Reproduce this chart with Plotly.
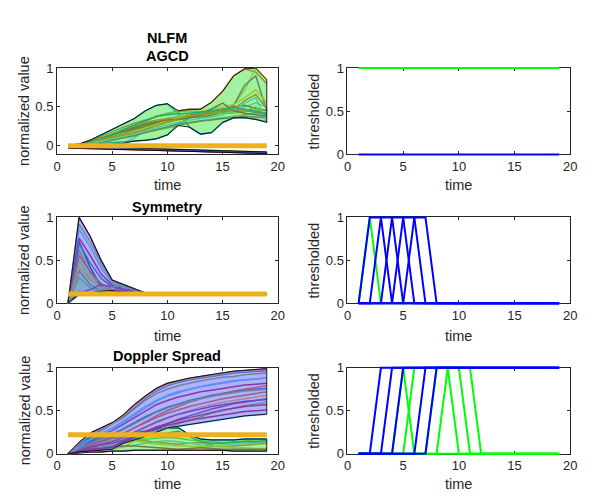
import numpy as np
import plotly.graph_objects as go

time = list(range(1, 20))

# ---------------- AGCD feature ----------------
agcd_green = [
    [0, 0.02, 0.07, 0.14, 0.22, 0.28, 0.35, 0.45, 0.52, 0.54, 0.42, 0.24, 0.15, 0.17, 0.30, 0.36, 0.36, 0.34, 0.31],
    [0, 0.02, 0.06, 0.12, 0.19, 0.24, 0.29, 0.33, 0.37, 0.41, 0.45, 0.47, 0.47, 0.56, 0.70, 0.90, 0.99, 0.95, 0.80],
    [0, 0.01, 0.03, 0.07, 0.12, 0.16, 0.20, 0.24, 0.28, 0.30, 0.33, 0.36, 0.38, 0.40, 0.45, 0.52, 0.72, 1.00, 0.85],
    [0, 0.01, 0.04, 0.08, 0.13, 0.18, 0.23, 0.27, 0.30, 0.32, 0.34, 0.36, 0.37, 0.39, 0.43, 0.52, 0.78, 0.90, 0.45],
    [0, 0.01, 0.03, 0.05, 0.08, 0.11, 0.14, 0.17, 0.20, 0.23, 0.26, 0.29, 0.32, 0.34, 0.36, 0.38, 0.40, 0.42, 0.43],
    [0, 0.00, 0.00, 0.01, 0.02, 0.03, 0.10, 0.20, 0.30, 0.35, 0.38, 0.40, 0.41, 0.42, 0.43, 0.45, 0.50, 0.55, 0.50],
    [0, 0.02, 0.05, 0.09, 0.13, 0.17, 0.21, 0.25, 0.29, 0.32, 0.36, 0.40, 0.42, 0.44, 0.47, 0.50, 0.52, 0.48, 0.45],
    [0, 0.01, 0.02, 0.03, 0.04, 0.05, 0.06, 0.07, 0.09, 0.14, 0.28, 0.36, 0.40, 0.42, 0.44, 0.46, 0.45, 0.43, 0.40],
    [0, 0.02, 0.05, 0.10, 0.15, 0.20, 0.25, 0.30, 0.33, 0.35, 0.37, 0.38, 0.39, 0.41, 0.43, 0.44, 0.46, 0.44, 0.42],
    [0, 0.01, 0.03, 0.06, 0.10, 0.14, 0.18, 0.23, 0.28, 0.33, 0.37, 0.41, 0.44, 0.47, 0.50, 0.53, 0.62, 0.72, 0.55],
    [0, 0.01, 0.02, 0.04, 0.07, 0.10, 0.13, 0.17, 0.21, 0.25, 0.28, 0.30, 0.32, 0.33, 0.35, 0.36, 0.38, 0.37, 0.36],
    [0, 0.02, 0.04, 0.08, 0.12, 0.18, 0.25, 0.31, 0.38, 0.42, 0.44, 0.45, 0.44, 0.43, 0.42, 0.42, 0.44, 0.50, 0.35],
    [0, 0.01, 0.03, 0.06, 0.09, 0.12, 0.15, 0.19, 0.23, 0.27, 0.30, 0.33, 0.35, 0.37, 0.40, 0.45, 0.55, 0.62, 0.30],
    [0, 0.02, 0.05, 0.09, 0.14, 0.19, 0.24, 0.28, 0.31, 0.33, 0.34, 0.36, 0.40, 0.48, 0.55, 0.45, 0.42, 0.40, 0.38],
    [0, 0.01, 0.04, 0.09, 0.15, 0.21, 0.27, 0.33, 0.38, 0.40, 0.41, 0.42, 0.43, 0.45, 0.47, 0.49, 0.47, 0.45, 0.41],
    [0, 0.02, 0.05, 0.08, 0.11, 0.14, 0.17, 0.21, 0.26, 0.31, 0.35, 0.38, 0.41, 0.43, 0.45, 0.47, 0.58, 0.66, 0.48],
]
agcd_blue = [
    [-0.020, -0.025, -0.030, -0.035, -0.040, -0.045, -0.050, -0.055, -0.060, -0.064, -0.068, -0.072, -0.076, -0.080, -0.084, -0.088, -0.092, -0.096, -0.100],
    [-0.010, -0.013, -0.016, -0.020, -0.024, -0.028, -0.032, -0.036, -0.040, -0.044, -0.048, -0.052, -0.056, -0.060, -0.064, -0.068, -0.072, -0.076, -0.080],
    [-0.015, -0.020, -0.025, -0.030, -0.032, -0.036, -0.040, -0.045, -0.050, -0.055, -0.060, -0.065, -0.070, -0.074, -0.078, -0.082, -0.086, -0.090, -0.094],
    [-0.030, -0.033, -0.036, -0.040, -0.044, -0.048, -0.052, -0.056, -0.060, -0.063, -0.066, -0.070, -0.073, -0.076, -0.080, -0.083, -0.086, -0.090, -0.093],
    [-0.005, -0.010, -0.015, -0.020, -0.025, -0.030, -0.035, -0.040, -0.045, -0.050, -0.055, -0.060, -0.064, -0.068, -0.072, -0.076, -0.080, -0.084, -0.088],
]
agcd_threshold = 0.0
agcd_thr_green = [
    [1, 1, 1, 1, 1, 1, 1, 1, 1, 1, 1, 1, 1, 1, 1, 1, 1, 1, 1],
]
agcd_thr_blue = [
    [0, 0, 0, 0, 0, 0, 0, 0, 0, 0, 0, 0, 0, 0, 0, 0, 0, 0, 0],
]

# ---------------- Symmetry feature ----------------
sym_blue = [
    [0, 1.00, 0.78, 0.50, 0.27, 0.22, 0.17, 0.12, 0.11, 0.11, 0.11, 0.11, 0.11, 0.11, 0.11, 0.11, 0.11, 0.11, 0.11],
    [0, 0.92, 0.72, 0.46, 0.25, 0.20, 0.16, 0.12, 0.11, 0.11, 0.11, 0.11, 0.11, 0.11, 0.11, 0.11, 0.11, 0.11, 0.11],
    [0, 0.86, 0.66, 0.41, 0.23, 0.19, 0.15, 0.12, 0.11, 0.11, 0.11, 0.11, 0.11, 0.11, 0.11, 0.11, 0.11, 0.11, 0.11],
    [0, 0.76, 0.56, 0.34, 0.21, 0.17, 0.14, 0.12, 0.11, 0.11, 0.11, 0.11, 0.11, 0.11, 0.11, 0.11, 0.11, 0.11, 0.11],
    [0, 0.70, 0.47, 0.29, 0.19, 0.16, 0.13, 0.11, 0.11, 0.11, 0.11, 0.11, 0.11, 0.11, 0.11, 0.11, 0.11, 0.11, 0.11],
    [0, 0.56, 0.37, 0.23, 0.16, 0.14, 0.12, 0.11, 0.11, 0.11, 0.11, 0.11, 0.11, 0.11, 0.11, 0.11, 0.11, 0.11, 0.11],
    [0, 0.42, 0.27, 0.19, 0.15, 0.13, 0.12, 0.11, 0.11, 0.11, 0.11, 0.11, 0.11, 0.11, 0.11, 0.11, 0.11, 0.11, 0.11],
    [0, 0.12, 0.16, 0.22, 0.19, 0.15, 0.13, 0.11, 0.11, 0.11, 0.11, 0.11, 0.11, 0.11, 0.11, 0.11, 0.11, 0.11, 0.11],
    [0, 0.14, 0.12, 0.14, 0.19, 0.21, 0.15, 0.12, 0.11, 0.11, 0.11, 0.11, 0.11, 0.11, 0.11, 0.11, 0.11, 0.11, 0.11],
]
sym_green = [
    [0, 0.72, 0.42, 0.20, 0.14, 0.12, 0.11, 0.11, 0.11, 0.11, 0.11, 0.11, 0.11, 0.11, 0.11, 0.11, 0.11, 0.11, 0.11],
    [0, 0.62, 0.36, 0.17, 0.13, 0.12, 0.11, 0.11, 0.11, 0.11, 0.11, 0.11, 0.11, 0.11, 0.11, 0.11, 0.11, 0.11, 0.11],
    [0, 0.50, 0.29, 0.15, 0.12, 0.11, 0.11, 0.11, 0.11, 0.11, 0.11, 0.11, 0.11, 0.11, 0.11, 0.11, 0.11, 0.11, 0.11],
    [0, 0.38, 0.22, 0.13, 0.12, 0.11, 0.11, 0.11, 0.11, 0.11, 0.11, 0.11, 0.11, 0.11, 0.11, 0.11, 0.11, 0.11, 0.11],
    [0, 0.30, 0.18, 0.12, 0.11, 0.11, 0.11, 0.11, 0.11, 0.11, 0.11, 0.11, 0.11, 0.11, 0.11, 0.11, 0.11, 0.11, 0.11],
    [0, 0.10, 0.10, 0.10, 0.10, 0.10, 0.10, 0.10, 0.10, 0.10, 0.10, 0.10, 0.10, 0.10, 0.10, 0.10, 0.10, 0.10, 0.10],
]
sym_threshold = 0.11
sym_thr_green = [
    [0, 1, 0, 0, 0, 0, 0, 0, 0, 0, 0, 0, 0, 0, 0, 0, 0, 0, 0],
]
sym_thr_blue = [
    [0, 1, 1, 0, 0, 0, 0, 0, 0, 0, 0, 0, 0, 0, 0, 0, 0, 0, 0],
    [0, 0, 1, 1, 0, 0, 0, 0, 0, 0, 0, 0, 0, 0, 0, 0, 0, 0, 0],
    [0, 0, 0, 1, 1, 0, 0, 0, 0, 0, 0, 0, 0, 0, 0, 0, 0, 0, 0],
    [0, 0, 0, 0, 1, 1, 0, 0, 0, 0, 0, 0, 0, 0, 0, 0, 0, 0, 0],
    [0, 0, 0, 0, 0, 1, 1, 0, 0, 0, 0, 0, 0, 0, 0, 0, 0, 0, 0],
]

# ---------------- Doppler Spread feature ----------------
dop_blue = [
    [0, 0.13, 0.24, 0.30, 0.36, 0.45, 0.57, 0.67, 0.76, 0.82, 0.85, 0.88, 0.90, 0.92, 0.94, 0.96, 0.97, 0.98, 0.99],
    [0, 0.10, 0.20, 0.27, 0.34, 0.42, 0.52, 0.62, 0.70, 0.75, 0.79, 0.82, 0.85, 0.87, 0.89, 0.90, 0.92, 0.93, 0.94],
    [0, 0.09, 0.17, 0.24, 0.30, 0.38, 0.47, 0.55, 0.62, 0.68, 0.72, 0.75, 0.78, 0.80, 0.82, 0.84, 0.86, 0.87, 0.88],
    [0, 0.08, 0.15, 0.21, 0.27, 0.34, 0.42, 0.50, 0.57, 0.62, 0.66, 0.69, 0.72, 0.74, 0.76, 0.78, 0.80, 0.81, 0.82],
    [0, 0.07, 0.13, 0.18, 0.23, 0.29, 0.36, 0.43, 0.49, 0.54, 0.58, 0.62, 0.65, 0.68, 0.70, 0.72, 0.74, 0.75, 0.76],
    [0, 0.06, 0.11, 0.15, 0.19, 0.24, 0.30, 0.36, 0.42, 0.47, 0.51, 0.55, 0.58, 0.61, 0.64, 0.66, 0.68, 0.70, 0.72],
    [0, 0.05, 0.09, 0.12, 0.15, 0.19, 0.24, 0.30, 0.36, 0.41, 0.46, 0.50, 0.54, 0.57, 0.60, 0.62, 0.64, 0.66, 0.68],
    [0, 0.04, 0.07, 0.10, 0.12, 0.16, 0.20, 0.25, 0.30, 0.35, 0.40, 0.44, 0.48, 0.52, 0.55, 0.58, 0.60, 0.62, 0.64],
    [0, 0.03, 0.05, 0.07, 0.09, 0.12, 0.16, 0.20, 0.25, 0.30, 0.35, 0.39, 0.43, 0.47, 0.50, 0.53, 0.56, 0.58, 0.60],
    [0, 0.02, 0.03, 0.04, 0.05, 0.12, 0.18, 0.23, 0.27, 0.30, 0.32, 0.34, 0.36, 0.38, 0.40, 0.42, 0.44, 0.45, 0.46],
    [0, 0.03, 0.05, 0.06, 0.08, 0.14, 0.20, 0.26, 0.31, 0.35, 0.39, 0.42, 0.45, 0.48, 0.51, 0.53, 0.55, 0.56, 0.57],
    [0, 0.11, 0.21, 0.28, 0.35, 0.43, 0.54, 0.64, 0.73, 0.79, 0.83, 0.86, 0.88, 0.90, 0.92, 0.94, 0.95, 0.96, 0.97],
    [0, 0.05, 0.10, 0.14, 0.18, 0.23, 0.30, 0.37, 0.44, 0.50, 0.55, 0.60, 0.64, 0.67, 0.70, 0.73, 0.75, 0.77, 0.79],
    [0, 0.12, 0.22, 0.29, 0.35, 0.44, 0.55, 0.65, 0.74, 0.80, 0.84, 0.87, 0.89, 0.91, 0.93, 0.95, 0.96, 0.97, 0.98],
    [0, 0.04, 0.08, 0.11, 0.14, 0.19, 0.25, 0.31, 0.37, 0.42, 0.46, 0.49, 0.52, 0.55, 0.57, 0.59, 0.61, 0.62, 0.63],
    [0, 0.06, 0.12, 0.17, 0.22, 0.28, 0.35, 0.42, 0.48, 0.53, 0.57, 0.61, 0.64, 0.67, 0.69, 0.71, 0.73, 0.74, 0.75],
    [0, 0.08, 0.16, 0.22, 0.28, 0.36, 0.45, 0.53, 0.61, 0.67, 0.71, 0.75, 0.78, 0.81, 0.83, 0.85, 0.86, 0.87, 0.88],
    [0, 0.02, 0.04, 0.05, 0.07, 0.13, 0.19, 0.25, 0.29, 0.33, 0.36, 0.39, 0.41, 0.43, 0.45, 0.47, 0.49, 0.50, 0.51],
]
dop_green = [
    [0, 0.12, 0.18, 0.20, 0.21, 0.22, 0.24, 0.26, 0.28, 0.30, 0.30, 0.22, 0.17, 0.16, 0.16, 0.16, 0.17, 0.17, 0.17],
    [0, 0.05, 0.08, 0.10, 0.12, 0.14, 0.17, 0.15, 0.13, 0.12, 0.11, 0.12, 0.13, 0.10, 0.08, 0.09, 0.10, 0.11, 0.12],
    [0, 0.02, 0.03, 0.04, 0.05, 0.08, 0.15, 0.13, 0.11, 0.10, 0.09, 0.09, 0.08, 0.08, 0.08, 0.07, 0.07, 0.06, 0.06],
    [0, 0.01, 0.02, 0.02, 0.03, 0.03, 0.04, 0.04, 0.04, 0.04, 0.04, 0.04, 0.04, 0.04, 0.04, 0.03, 0.03, 0.03, 0.03],
    [0, 0.08, 0.12, 0.14, 0.15, 0.15, 0.16, 0.17, 0.18, 0.19, 0.18, 0.16, 0.15, 0.14, 0.13, 0.14, 0.15, 0.16, 0.16],
    [0, 0.03, 0.05, 0.06, 0.07, 0.08, 0.10, 0.12, 0.14, 0.15, 0.14, 0.12, 0.10, 0.09, 0.10, 0.11, 0.12, 0.13, 0.14],
    [0, 0.04, 0.06, 0.07, 0.08, 0.09, 0.09, 0.08, 0.07, 0.06, 0.05, 0.06, 0.07, 0.06, 0.05, 0.05, 0.05, 0.05, 0.05],
    [0, 0.10, 0.15, 0.17, 0.18, 0.19, 0.20, 0.21, 0.22, 0.24, 0.26, 0.20, 0.14, 0.12, 0.12, 0.13, 0.14, 0.14, 0.15],
]
dop_threshold = 0.22
dop_thr_green = [
    [0, 0, 0, 0, 1, 0, 0, 0, 0, 0, 0, 0, 0, 0, 0, 0, 0, 0, 0],
    [0, 0, 0, 0, 0, 1, 1, 1, 1, 1, 0, 0, 0, 0, 0, 0, 0, 0, 0],
    [0, 0, 0, 0, 0, 0, 0, 0, 1, 0, 0, 0, 0, 0, 0, 0, 0, 0, 0],
    [0, 0, 0, 0, 0, 0, 0, 1, 1, 1, 1, 0, 0, 0, 0, 0, 0, 0, 0],
]
dop_thr_blue = [
    [0, 0, 1, 1, 1, 1, 1, 1, 1, 1, 1, 1, 1, 1, 1, 1, 1, 1, 1],
    [0, 0, 0, 1, 1, 1, 1, 1, 1, 1, 1, 1, 1, 1, 1, 1, 1, 1, 1],
    [0, 0, 0, 0, 1, 1, 1, 1, 1, 1, 1, 1, 1, 1, 1, 1, 1, 1, 1],
    [0, 0, 0, 0, 0, 0, 1, 1, 1, 1, 1, 1, 1, 1, 1, 1, 1, 1, 1],
    [0, 0, 0, 0, 0, 0, 0, 1, 1, 1, 1, 1, 1, 1, 1, 1, 1, 1, 1],
]

titles = [["NLFM", "AGCD"], ["Symmetry"], ["Doppler Spread"]]
left_ylabel = "normalized value"
right_ylabel = "thresholded"
xlabel = "time"
x_ticks = [0, 5, 10, 15, 20]
y_ticks = [0, 0.5, 1]
y_tick_text = ["0", "0.5", "1"]

# ---------------- styling ----------------
W, H = 592, 499
FONT = "Liberation Sans, Arial, Helvetica, sans-serif"
AX = "#262626"
LINE_COLORS = ["#0072BD", "#D95319", "#EDB120", "#7E2F8E",
               "#77AC30", "#4DBEEE", "#A2142F"]
GREEN_FILL = "rgba(65,228,65,0.5)"
BLUE_FILL = "rgba(100,100,255,0.5)"
THRESH_COLOR = "#EDB120"

# axes boxes in pixels: (left, right) and (top, bottom)
col_px = [(54, 279), (350, 577)]
row_px = [(63, 152), (217, 305.5), (372, 460.5)]
left_yranges = [[-0.112, 1], [0, 1], [0, 1]]
PAD = 4  # px of extra room so marks on the box edge are not clipped

fig = go.Figure()


def band(xax, yax, series, fill):
    arr = np.array(series)
    lo = arr.min(axis=0)
    hi = arr.max(axis=0)
    xs = time + time[::-1]
    ys = list(hi) + list(lo[::-1])
    fig.add_trace(go.Scatter(x=xs, y=ys, xaxis=xax, yaxis=yax, mode="lines",
                             fill="toself", fillcolor=fill,
                             line=dict(color="rgba(0,0,0,0.85)", width=1),
                             hoverinfo="skip", showlegend=False))


def lines(xax, yax, series, start=0, width=1.5):
    for i, s in enumerate(series):
        c = LINE_COLORS[(start + i) % len(LINE_COLORS)]
        fig.add_trace(go.Scatter(x=time, y=s, xaxis=xax, yaxis=yax, mode="lines",
                                 line=dict(color=c, width=width),
                                 showlegend=False))


def threshold_line(xax, yax, value):
    fig.add_trace(go.Scatter(x=[time[0], time[-1]], y=[value, value], xaxis=xax, yaxis=yax,
                             mode="lines", line=dict(color=THRESH_COLOR, width=5),
                             showlegend=False))


def binary(xax, yax, series, color):
    for s in series:
        fig.add_trace(go.Scatter(x=time, y=s, xaxis=xax, yaxis=yax, mode="lines",
                                 line=dict(color=color, width=2), showlegend=False))


# an empty trace on each visible box so its axes get drawn
for i in range(1, 7):
    fig.add_trace(go.Scatter(x=[None], y=[None], xaxis=f"x{i}", yaxis=f"y{i}",
                             mode="lines", hoverinfo="skip", showlegend=False))

panels = [
    (agcd_green, agcd_blue, agcd_threshold, agcd_thr_green, agcd_thr_blue),
    (sym_green, sym_blue, sym_threshold, sym_thr_green, sym_thr_blue),
    (dop_green, dop_blue, dop_threshold, dop_thr_green, dop_thr_blue),
]

# data live on hidden axes 7..12, which sit exactly over the visible boxes 1..6
for r, (g, b, thr, tg, tb) in enumerate(panels):
    li = 2 * r + 1 + 6
    ri = 2 * r + 2 + 6
    xl, yl = f"x{li}", f"y{li}"
    xr, yr = f"x{ri}", f"y{ri}"
    lines(xl, yl, g, start=0)
    band(xl, yl, g, GREEN_FILL)
    lines(xl, yl, b, start=3)
    band(xl, yl, b, BLUE_FILL)
    threshold_line(xl, yl, thr)
    binary(xr, yr, tg, "#00FF00")
    binary(xr, yr, tb, "#0000FF")

axis_common = dict(showline=True, linecolor=AX, linewidth=1, mirror="ticks",
                   ticks="inside", ticklen=3, tickcolor=AX, tickwidth=1,
                   showgrid=False, zeroline=False,
                   tickfont=dict(family=FONT, size=13, color=AX))

layout = dict(width=W, height=H, margin=dict(l=0, r=0, t=0, b=0),
              paper_bgcolor="white", plot_bgcolor="rgba(0,0,0,0)",
              showlegend=False)

for r in range(3):
    top, bot = row_px[r]
    for c in range(2):
        i = 2 * r + c + 1
        left, right = col_px[c]
        yr_ = left_yranges[r] if c == 0 else [0, 1]
        sx = "" if i == 1 else str(i)
        layout[f"xaxis{sx}"] = dict(axis_common, domain=[left / W, right / W],
                                    range=[0, 20], tickvals=x_ticks,
                                    anchor=f"y{i}")
        layout[f"yaxis{sx}"] = dict(axis_common, domain=[1 - bot / H, 1 - top / H],
                                    range=yr_, tickvals=y_ticks, ticktext=y_tick_text,
                                    anchor=f"x{i}")
        # hidden data axes, grown by PAD px on each side with matching scale
        j = i + 6
        ux = 20 / (right - left)
        uy = (yr_[1] - yr_[0]) / (bot - top)
        layout[f"xaxis{j}"] = dict(visible=False, domain=[(left - PAD) / W, (right + PAD) / W],
                                   range=[0 - PAD * ux, 20 + PAD * ux], anchor=f"y{j}")
        layout[f"yaxis{j}"] = dict(visible=False,
                                   domain=[1 - (bot + PAD) / H, 1 - (top - PAD) / H],
                                   range=[yr_[0] - PAD * uy, yr_[1] + PAD * uy],
                                   anchor=f"x{j}")

fig.update_layout(**layout)

annots = []
label_font = dict(family=FONT, size=14.5, color=AX)
title_font = dict(family=FONT, size=14.5, color="black")
title_y = [[32, 51], [206], [360]]
xlabel_y = [184, 339, 492]
for r in range(3):
    cx_left = sum(col_px[0]) / 2 / W
    cx_right = sum(col_px[1]) / 2 / W
    for txt, ty in zip(titles[r], title_y[r]):
        annots.append(dict(text=f"<b>{txt}</b>", x=cx_left, y=1 - ty / H,
                           xref="paper", yref="paper", showarrow=False,
                           xanchor="center", yanchor="middle", font=title_font))
    for cx in (cx_left, cx_right):
        annots.append(dict(text=xlabel, x=cx, y=1 - xlabel_y[r] / H,
                           xref="paper", yref="paper", showarrow=False,
                           xanchor="center", yanchor="middle", font=label_font))
    cy = 1 - sum(row_px[r]) / 2 / H
    annots.append(dict(text=left_ylabel, x=21 / W, y=cy, xref="paper", yref="paper",
                       showarrow=False, textangle=-90, xanchor="center",
                       yanchor="middle", font=label_font))
    annots.append(dict(text=right_ylabel, x=316 / W, y=cy, xref="paper", yref="paper",
                       showarrow=False, textangle=-90, xanchor="center",
                       yanchor="middle", font=label_font))

fig.update_layout(annotations=annots)
fig.write_html("out.html")
